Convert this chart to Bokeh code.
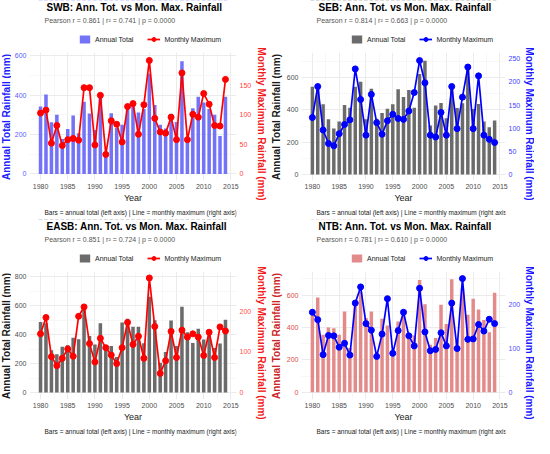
import math
from bokeh.plotting import figure
from bokeh.models import Range1d, LinearAxis, FixedTicker, Legend, LegendItem, Label
from bokeh.layouts import column, row
from bokeh.embed import file_html
from bokeh.resources import INLINE

years = [1980, 1981, 1982, 1983, 1984, 1985, 1986, 1987, 1988, 1989,
         1990, 1991, 1992, 1993, 1994, 1995, 1996, 1997, 1998, 1999,
         2000, 2001, 2002, 2003, 2004, 2005, 2006, 2007, 2008, 2009,
         2010, 2011, 2012, 2013, 2014]

swb_total = [342, 403, 262, 300, 177, 228, 297, 207, 367, 307,
             223, 390, 92, 308, 233, 250, 342, 358, 312, 330,
             508, 350, 250, 230, 305, 263, 572, 175, 333, 392,
             363, 330, 300, 193, 392]
swb_max = [103, 108, 52, 82, 48, 58, 60, 57, 146, 146,
           49, 133, 33, 90, 84, 54, 114, 119, 67, 117,
           192, 94, 71, 69, 96, 58, 171, 58, 101, 96,
           136, 118, 82, 81, 160]

seb_total = [544, 559, 435, 342, 285, 328, 431, 414, 544, 575,
             342, 532, 346, 381, 408, 435, 528, 480, 524, 414,
             623, 705, 303, 427, 443, 348, 540, 412, 441, 685,
             406, 437, 328, 293, 334]
seb_max = [123, 190, 96, 67, 62, 88, 108, 118, 228, 162,
           85, 173, 112, 87, 116, 130, 121, 119, 137, 177,
           246, 198, 85, 81, 134, 85, 190, 99, 167, 232,
           99, 213, 85, 76, 69]

easb_total = [487, 478, 292, 264, 317, 326, 379, 368, 578, 391,
              331, 478, 326, 322, 245, 483, 510, 455, 455, 340,
              662, 499, 205, 280, 497, 322, 593, 416, 343, 441,
              366, 395, 308, 338, 503]
easb_max = [144, 184, 88, 66, 84, 107, 89, 187, 210, 120,
            75, 133, 110, 92, 71, 110, 172, 118, 138, 84,
            281, 162, 47, 78, 150, 86, 153, 136, 144, 136,
            91, 148, 86, 161, 151]

ntb_total = [490, 585, 355, 400, 396, 355, 499, 273, 545, 620,
             458, 499, 230, 454, 413, 250, 437, 507, 359, 350,
             694, 544, 294, 335, 540, 421, 698, 320, 640, 478,
             577, 511, 446, 370, 614]
ntb_max = [183, 166, 86, 130, 129, 103, 112, 85, 204, 241,
           157, 142, 82, 133, 214, 89, 141, 183, 129, 106,
           238, 138, 95, 98, 136, 106, 204, 100, 260, 121,
           122, 155, 140, 167, 157]

x_ticks = [1980, 1985, 1990, 1995, 2000, 2005, 2010, 2015]
x_minor = [1977.5, 1982.5, 1987.5, 1992.5, 1997.5, 2002.5, 2007.5, 2012.5]

titles = ["SWB: Ann. Tot. vs Mon. Max. Rainfall",
          "SEB: Ann. Tot. vs Mon. Max. Rainfall",
          "EASB: Ann. Tot. vs Mon. Max. Rainfall",
          "NTB: Ann. Tot. vs Mon. Max. Rainfall"]
subtitles = ["Pearson r = 0.861  |  r\u00b2 = 0.741  |  p = 0.0000",
             "Pearson r = 0.814  |  r\u00b2 = 0.663  |  p = 0.0000",
             "Pearson r = 0.851  |  r\u00b2 = 0.724  |  p = 0.0000",
             "Pearson r = 0.781  |  r\u00b2 = 0.610  |  p = 0.0000"]
caption = "Bars = annual total (left axis)  |  Line = monthly maximum (right axis)"
left_title = "Annual Total Rainfall (mm)"
right_title = "Monthly Maximum Rainfall (mm)"
legend_labels = ["Annual Total", "Monthly Maximum"]

FONT = "Liberation Sans"
PANEL_H = 219
HEAD_H, FOOT_H = 48, 14
MAIN_TOP, MAIN_BOTTOM = 4, 24
MAIN_H = PANEL_H - HEAD_H - FOOT_H
FW = 210
FH = MAIN_H - MAIN_TOP - MAIN_BOTTOM
FRAME_MID = FOOT_H + MAIN_BOTTOM + FH / 2  # from the bottom of the panel
X_RANGE = (1977.97, 2016.03)


def blank(width, height, xr=(0, 1), yr=(0, 1)):
    f = figure(width=width, height=height, output_backend="svg", toolbar_location=None,
               min_border=0, x_axis_location=None, y_axis_location=None,
               x_range=Range1d(*xr), y_range=Range1d(*yr))
    f.outline_line_color = None
    f.grid.visible = False
    f.border_fill_color = "white"
    f.background_fill_color = "white"
    return f


def label(f, text, x, y, size, color, style="normal", align="left", angle=0.0):
    f.add_layout(Label(x=x, y=y, x_units="screen", y_units="screen", text=text,
                       angle=angle, text_align=align, text_baseline="middle",
                       text_font=FONT, text_font_size=size, text_font_style=style,
                       text_color=color))


def main_fig(total, mmax, bar_color, line_color, ltick_color, rtick_color,
             left_rng, k, left_ticks, right_ticks, bl, br):
    p = figure(width=bl + FW + br, height=MAIN_H, output_backend="svg",
               toolbar_location=None, title=None,
               x_range=Range1d(*X_RANGE), y_range=Range1d(left_rng[0], left_rng[1]),
               min_border_left=bl, min_border_right=br,
               min_border_top=MAIN_TOP, min_border_bottom=MAIN_BOTTOM)
    p.extra_y_ranges = {"right": Range1d(left_rng[0] / k, left_rng[1] / k)}
    p.outline_line_color = None
    p.background_fill_color = "white"
    p.border_fill_color = "white"

    p.vbar(x=years, top=total, width=0.65, fill_color=bar_color, line_color=None)
    p.line(x=years, y=mmax, y_range_name="right", line_color=line_color, line_width=1.7)
    p.scatter(x=years, y=mmax, y_range_name="right", size=6,
              fill_color=line_color, line_color=line_color)

    step = left_ticks[1] - left_ticks[0]
    p.xaxis.ticker = FixedTicker(ticks=x_ticks, minor_ticks=x_minor)
    p.yaxis.ticker = FixedTicker(ticks=left_ticks,
                                 minor_ticks=[t + step / 2 for t in left_ticks])
    for g in (p.xgrid, p.ygrid):
        g.grid_line_color = "#EBEBEB"
        g.grid_line_width = 1
        g.minor_grid_line_color = "#F4F4F4"
        g.minor_grid_line_width = 0.7

    xa = p.xaxis[0]
    xa.axis_label = "Year"
    xa.axis_label_text_font = FONT
    xa.axis_label_text_font_size = "9px"
    xa.axis_label_text_font_style = "normal"
    xa.axis_label_text_color = "#1A1A1A"
    xa.axis_label_standoff = 1
    xa.major_label_text_font = FONT
    xa.major_label_text_font_size = "7px"
    xa.major_label_text_color = "#4D4D4D"
    xa.major_label_standoff = 3

    ya = p.yaxis[0]
    ya.major_label_text_font = FONT
    ya.major_label_text_font_size = "7px"
    ya.major_label_text_color = ltick_color
    ya.major_label_standoff = 3

    ra = LinearAxis(y_range_name="right", ticker=FixedTicker(ticks=right_ticks))
    ra.major_label_text_font = FONT
    ra.major_label_text_font_size = "7px"
    ra.major_label_text_color = rtick_color
    ra.major_label_standoff = 3
    p.add_layout(ra, "right")

    for ax in (xa, ya, ra):
        ax.axis_line_color = None
        ax.major_tick_line_color = None
        ax.minor_tick_line_color = None
        ax.major_tick_out = 0
        ax.major_tick_in = 0
        ax.minor_tick_out = 0
        ax.minor_tick_in = 0
    return p


def header_fig(width, bl, title, subtitle, total, mmax, bar_color, line_color):
    # the strip's y range lies below all values, so the series stay off-screen
    h = blank(width, HEAD_H, xr=X_RANGE, yr=(-3000, -2000))
    label(h, title, bl + 2, HEAD_H - 7, "10px", "#000000", "bold")
    label(h, subtitle, bl, HEAD_H - 20, "7px", "#555555")
    kb = h.vbar(x=years, top=total, width=0.65, fill_color=bar_color, line_color=None)
    kl = h.line(x=years, y=mmax, line_color=line_color, line_width=1.7)
    ks = h.scatter(x=years, y=mmax, size=6, fill_color=line_color, line_color=line_color)
    legend = Legend(items=[LegendItem(label=legend_labels[0], renderers=[kb]),
                           LegendItem(label=legend_labels[1], renderers=[kl, ks])],
                    orientation="horizontal", location=(bl + 34, 4),
                    label_text_font=FONT, label_text_font_size="7px",
                    label_text_color="#1A1A1A", label_standoff=4,
                    glyph_width=13, glyph_height=10, spacing=14,
                    padding=2, margin=0, border_line_color=None,
                    background_fill_alpha=0, label_height=10)
    h.add_layout(legend, "center")
    return h


def block(title, subtitle, total, mmax, bar_color, line_color,
          lt_color, ltick_color, rt_color, rtick_color,
          left_rng, k, left_ticks, right_ticks, side, lt_style="bold"):
    if side == "left":
        lw, lcx, bl, br, rw, rcx = 11, 5.5, 15, 18, 13, 6.5
    else:
        lw, lcx, bl, br, rw, rcx = 16, 9, 15, 15, 11, 5.5
    mw = bl + FW + br
    lf = blank(lw, PANEL_H)
    label(lf, left_title, lcx, FRAME_MID, "10px", lt_color, lt_style, "center", math.pi / 2)
    rf = blank(rw, PANEL_H)
    label(rf, right_title, rcx, FRAME_MID - 7, "10px", rt_color, "bold", "center",
          -math.pi / 2)
    head = header_fig(mw, bl, title, subtitle, total, mmax, bar_color, line_color)
    p = main_fig(total, mmax, bar_color, line_color, ltick_color, rtick_color,
                 left_rng, k, left_ticks, right_ticks, bl, br)
    foot = blank(mw, FOOT_H)
    label(foot, caption, bl + FW / 2 - 7, FOOT_H / 2, "6.5px", "#1A1A1A", "normal", "center")
    return row(lf, column(head, p, foot), rf)


b1 = block(titles[0], subtitles[0], swb_total, swb_max, "#7373F8", "#FF0000",
           "#2020FF", "#5A5AFF", "#F21C1C", "#FF4040",
           (-33.5, 616.5), 3.0, [0, 200, 400, 600], [0, 50, 100, 150], "left")
b2 = block(titles[1], subtitles[1], seb_total, seb_max, "#6B6B6B", "#0000FF",
           "#1A1A1A", "#4D4D4D", "#1A1AFF", "#4040FF",
           (-37.0, 756.0), 2.87, [0, 200, 400, 600], [0, 50, 100, 150, 200, 250], "right")
b3 = block(titles[2], subtitles[2], easb_total, easb_max, "#6B6B6B", "#FF0000",
           "#1A1A1A", "#4D4D4D", "#F21C1C", "#FF4D4D",
           (-48.0, 836.0), 2.816, [0, 200, 400, 600, 800], [0, 100, 200], "left")
b4 = block(titles[3], subtitles[3], ntb_total, ntb_max, "#E38A8A", "#0000FF",
           "#CD2626", "#E04848", "#1A1AFF", "#4D4DFF",
           (-45.0, 746.0), 2.70, [0, 200, 400, 600], [0, 100, 200], "right")

layout = column(row(b1, b2), row(b3, b4))
open("out.html", "w").write(file_html(layout, INLINE))
